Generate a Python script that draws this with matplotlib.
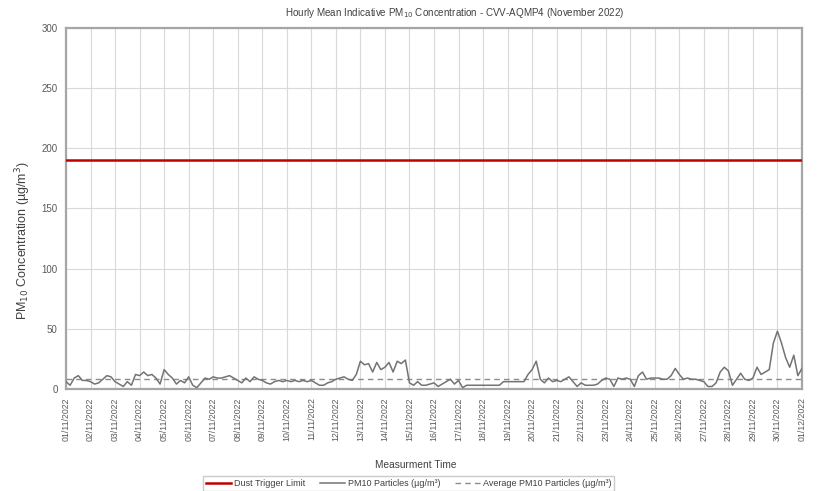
import numpy as np
import matplotlib.pyplot as plt

plt.rcParams['font.family'] = ['Liberation Sans Narrow', 'Liberation Sans', 'DejaVu Sans']

# 4-hourly readings of PM10 (ug/m3), 01/11/2022 00:00 to 01/12/2022 00:00
pm10 = [6, 3, 9, 11, 7, 7,
        6, 4, 5, 8, 11, 10,
        6, 4, 2, 6, 3, 12,
        11, 14, 11, 12, 9, 4,
        16, 12, 9, 4, 7, 5,
        10, 3, 1, 5, 9, 8,
        10, 9, 9, 10, 11, 9,
        7, 5, 9, 6, 10, 8,
        7, 5, 4, 6, 7, 6,
        7, 6, 7, 6, 7, 6,
        7, 5, 3, 3, 5, 6,
        8, 9, 10, 8, 7, 12,
        23, 20, 21, 14, 22, 16,
        18, 22, 14, 23, 21, 24,
        5, 3, 6, 3, 3, 4,
        5, 2, 4, 6, 8, 4,
        7, 1, 3, 3, 3, 3,
        3, 3, 3, 3, 3, 6,
        6, 6, 6, 6, 6, 12,
        16, 23, 8, 5, 9, 6,
        7, 6, 8, 10, 6, 2,
        5, 3, 3, 3, 4, 7,
        9, 8, 2, 9, 8, 9,
        8, 2, 11, 14, 8, 9,
        9, 9, 8, 8, 11, 17,
        12, 8, 9, 8, 8, 7,
        6, 2, 2, 5, 14, 18,
        15, 3, 8, 13, 8, 7,
        9, 18, 12, 14, 16, 38,
        48, 38, 26, 18, 28, 11,
        17]
step_hours = 4
trigger = 190
average = 8.5
dates = ["%02d/11/2022" % d for d in range(1, 31)] + ["01/12/2022"]

t = np.arange(len(pm10)) * step_hours / 24.0

fig = plt.figure(figsize=(8.17, 4.91), dpi=100)
ax = fig.add_axes([0.0808, 0.208, 0.9008, 0.735])

ax.axhline(trigger, color='#c00000', lw=1.8, zorder=3, label='Dust Trigger Limit')
ax.plot(t, pm10, color='#737373', lw=1.1, zorder=4, label='PM10 Particles (µg/m³)')
ax.axhline(average, color='#8c8c8c', lw=1.0, ls=(0, (4, 3)), zorder=3,
           label='Average PM10 Particles (µg/m³)')

ax.set_xlim(0, len(dates) - 1)
ax.set_ylim(0, 300)
ax.set_xticks(np.arange(len(dates)))
ax.set_xticklabels(dates, rotation=90, fontsize=6.3, color='#595959')
ax.set_yticks(np.arange(0, 301, 50))
ax.tick_params(axis='y', labelsize=7, labelcolor='#595959', length=0, pad=6)
ax.tick_params(axis='x', length=0, pad=6)
ax.grid(True, color='#d9d9d9', lw=0.8)
ax.set_axisbelow(True)
for s in ax.spines.values():
    s.set_color('#a6a6a6')
    s.set_linewidth(1.6)

fig.text(0.556, 0.973, 'Hourly Mean Indicative PM$_{10}$ Concentration - CVV-AQMP4 (November 2022)',
         ha='center', va='center', fontsize=7.1, color='#404040')
fig.text(0.029, 0.509, 'PM$_{10}$ Concentration (µg/m$^3$)', rotation=90,
         ha='center', va='center', fontsize=9, color='#404040')
fig.text(0.509, 0.053, 'Measurment Time', ha='center', va='center',
         fontsize=7.3, color='#404040')

leg = fig.legend(loc='upper center', bbox_to_anchor=(0.5, 0.03), ncol=3, fontsize=6.5,
                 frameon=True, fancybox=False, edgecolor='#bfbfbf', handlelength=2.8,
                 handletextpad=0.3, columnspacing=1.6, borderpad=0.3, borderaxespad=0)
for txt in leg.get_texts():
    txt.set_color('#404040')

fig.savefig('out.png', dpi=100)
